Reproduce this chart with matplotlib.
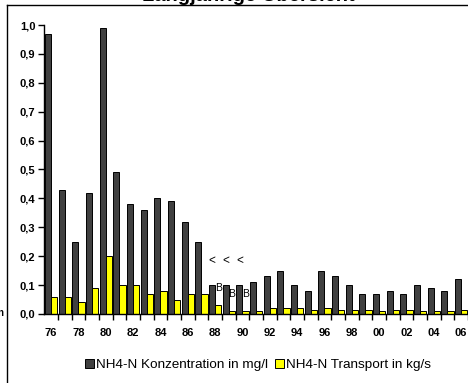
import matplotlib
matplotlib.use("Agg")
import matplotlib.pyplot as plt
import numpy as np
from matplotlib.lines import Line2D
from matplotlib.patches import Patch

plt.rcParams['font.family'] = ['Liberation Sans', 'DejaVu Sans']

# Jahresreihe 1976 - 2006
years = list(range(1976, 2007))
konzentration = [0.97, 0.43, 0.25, 0.42, 0.99, 0.49, 0.38, 0.36, 0.40, 0.39,
                 0.32, 0.25, 0.10, 0.10, 0.10, 0.11, 0.13, 0.15, 0.10, 0.08,
                 0.15, 0.13, 0.10, 0.07, 0.07, 0.08, 0.07, 0.10, 0.09, 0.08,
                 0.12]
transport = [0.06, 0.06, 0.04, 0.09, 0.20, 0.10, 0.10, 0.07, 0.08, 0.05,
             0.07, 0.07, 0.03, 0.01, 0.01, 0.01, 0.02, 0.02, 0.02, 0.015,
             0.02, 0.015, 0.015, 0.015, 0.01, 0.015, 0.015, 0.01, 0.01, 0.01,
             0.015]
# Kennzeichnung: unter Bestimmungsgrenze
flag_years = [1988, 1989, 1990]
flag_konz = ['<', '<', '<']
flag_trans = ['B', 'B', 'B']

yticks = [0.0, 0.1, 0.2, 0.3, 0.4, 0.5, 0.6, 0.7, 0.8, 0.9, 1.0]
ytick_labels = ['0,0', '0,1', '0,2', '0,3', '0,4', '0,5', '0,6', '0,7', '0,8', '0,9', '1,0']
xtick_years = years[::2]
xtick_labels = ['%02d' % (y % 100) for y in xtick_years]

label_konz = 'NH4-N Konzentration in mg/l'
label_trans = 'NH4-N Transport in kg/s'
title = 'Langjährige Übersicht'

dark = '#404040'
yellow = '#FFFF00'

fig = plt.figure(figsize=(4.68, 3.83), dpi=100)
ax = fig.add_axes([0.0947, 0.1802, 0.9053, 0.7545])

x = np.arange(len(years))
w = 0.46
ax.bar(x - w / 2, konzentration, width=w, color=dark, edgecolor='black', linewidth=0.7)
ax.bar(x + w / 2, transport, width=w, color=yellow, edgecolor='black', linewidth=0.7)

for yr, sk, st in zip(flag_years, flag_konz, flag_trans):
    i = years.index(yr)
    ax.annotate(sk, (i - w / 2, konzentration[i]), xytext=(0, 17), textcoords='offset points',
                ha='center', va='center', fontsize=8.5)
    ax.annotate(st, (i + w / 2, transport[i]), xytext=(0, 12.5), textcoords='offset points',
                ha='center', va='center', fontsize=7.5)

ax.set_xlim(-0.5, len(years) - 0.5)
ax.set_ylim(0, 1.0)
ax.set_yticks(yticks)
ax.set_yticklabels(ytick_labels, fontsize=8, fontweight='bold')
ax.set_xticks([years.index(y) for y in xtick_years])
ax.set_xticklabels(xtick_labels, fontsize=8, fontweight='bold')
ax.set_xticks(np.arange(len(years)) + 0.5, minor=True)
ax.tick_params(axis='x', which='major', length=0, pad=10)
ax.tick_params(axis='x', which='minor', length=4, width=1, direction='out')
ax.tick_params(axis='y', length=4, width=1, direction='out', pad=2.5)
for s in ['top', 'right']:
    ax.spines[s].set_visible(False)
ax.spines['left'].set_linewidth(1)
ax.spines['bottom'].set_linewidth(1)

# Rahmen des Diagrammbereichs
fig.add_artist(Line2D([7.5 / 468, 1.0], [1 - 5.3 / 383, 1 - 5.3 / 383], color='black', lw=1.0,
                      transform=fig.transFigure))
fig.add_artist(Line2D([7.5 / 468, 7.5 / 468], [0, 1 - 5.3 / 383], color='black', lw=1.0,
                      transform=fig.transFigure))

fig.text(248 / 468, 1 - 1.0 / 383, title, ha='center', va='baseline', fontsize=14.5, fontweight='bold')
fig.text(-3 / 468, 1 - 313 / 383, 'n', ha='left', va='center', fontsize=7, fontweight='bold')

handles = [Patch(facecolor=dark, edgecolor='black', linewidth=0.7, label=label_konz),
           Patch(facecolor=yellow, edgecolor='black', linewidth=0.7, label=label_trans)]
fig.legend(handles=handles, loc='center', bbox_to_anchor=(258 / 468, 1 - 365 / 383), ncol=2,
           frameon=False, fontsize=9.7, handlelength=0.7, handleheight=0.7,
           handletextpad=0.15, columnspacing=0.5, borderpad=0)

fig.savefig('out.png', dpi=100)
